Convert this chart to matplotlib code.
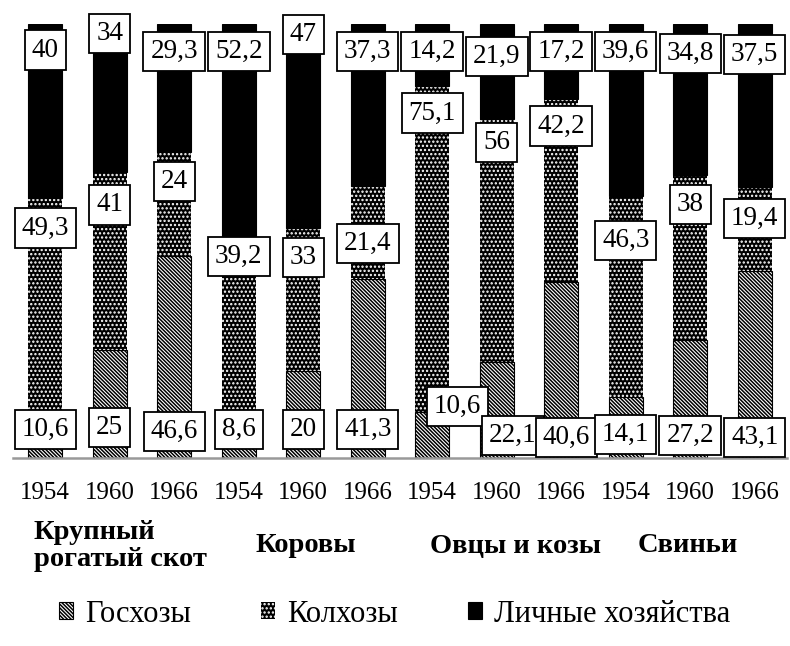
import matplotlib
matplotlib.use('Agg')
import numpy as np
import matplotlib.pyplot as plt

plt.rcParams['font.family'] = ['Liberation Serif', 'DejaVu Serif']
plt.rcParams['hatch.linewidth'] = 1.1

years = ['1954', '1960', '1966'] * 4
groups = ['Крупный\nрогатый скот', 'Коровы', 'Овцы и козы', 'Свиньи']
series = ['Госхозы', 'Колхозы', 'Личные хозяйства']

gos = [10.6, 25, 46.6, 8.6, 20, 41.3, 10.6, 22.1, 40.6, 14.1, 27.2, 43.1]
kol = [49.3, 41, 24, 39.2, 33, 21.4, 75.1, 56, 42.2, 46.3, 38, 19.4]
lich = [40, 34, 29.3, 52.2, 47, 37.3, 14.2, 21.9, 17.2, 39.6, 34.8, 37.5]

# label centres (percent of bar height)
gos_lab_y = [6.5, 7.1, 6.2, 6.5, 6.5, 6.5, 11.8, 5.1, 4.8, 5.5, 5.1, 4.8]
kol_lab_y = [53.0, 58.3, 63.8, 46.5, 46.3, 49.5, 79.5, 72.8, 76.5, 50.2, 58.5, 55.1]
lich_lab_y = [94.0, 97.9, 93.6, 93.6, 97.5, 93.6, 93.6, 92.5, 93.6, 93.6, 93.2, 93.0]
gos_lab_dx = [0, 0, 0, 0, 0, 0, 0.39, 0.25, 0.08, 0, 0, 0]

fig = plt.figure(figsize=(7.9, 6.46), dpi=100)
ax = fig.add_axes([13 / 790, 1 - 458 / 646, 774 / 790, 434 / 646])

x = np.arange(len(years))
w = 0.53
gos = np.array(gos)
kol = np.array(kol)
lich = np.array(lich)

b1 = ax.bar(x, gos, w, facecolor='white', edgecolor='black', hatch='\\' * 9,
            linewidth=0.8, label=series[0])
b2 = ax.bar(x, kol, w, bottom=gos, facecolor='black', edgecolor='white',
            hatch='....', linewidth=0, label=series[1])
b3 = ax.bar(x, lich, w, bottom=gos + kol, facecolor='black', edgecolor='black',
            linewidth=0.8, label=series[2])

def fmt(v):
    return ('%g' % v).replace('.', ',')

box = dict(boxstyle='square,pad=0.26', facecolor='white', edgecolor='black',
           linewidth=1.3)
for i in range(len(x)):
    for v, yy, dx in [(gos[i], gos_lab_y[i], gos_lab_dx[i]),
                      (kol[i], kol_lab_y[i], 0),
                      (lich[i], lich_lab_y[i], 0)]:
        ax.text(x[i] + dx, yy, fmt(v), ha='center', va='center', fontsize=19.5,
                bbox=box, clip_on=False, zorder=5)

ax.set_xlim(-0.5, 11.5)
ax.set_ylim(0, 100)
for s in ['top', 'right', 'left']:
    ax.spines[s].set_visible(False)
ax.spines['bottom'].set_color('#999999')
ax.spines['bottom'].set_linewidth(1.8)
ax.set_yticks([])
ax.set_xticks(x)
ax.set_xticklabels(years, fontsize=18)
ax.tick_params(axis='x', length=0, pad=17)

grp_x = [120, 306, 516, 688]
for g, gx in zip(groups, grp_x):
    fig.text(gx / 790, 1 - 546 / 646, g, ha='center', va='center',
             fontsize=20.5, fontweight='bold', multialignment='left',
             linespacing=1.1)

fig.legend(handles=[b1, b2, b3], labels=series, loc='center',
           bbox_to_anchor=(0.5, 1 - 614 / 646), ncol=3, frameon=False,
           fontsize=22, handlelength=0.45, handleheight=0.45,
           handletextpad=0.4, columnspacing=2.3)

fig.savefig('out.png', dpi=100)
